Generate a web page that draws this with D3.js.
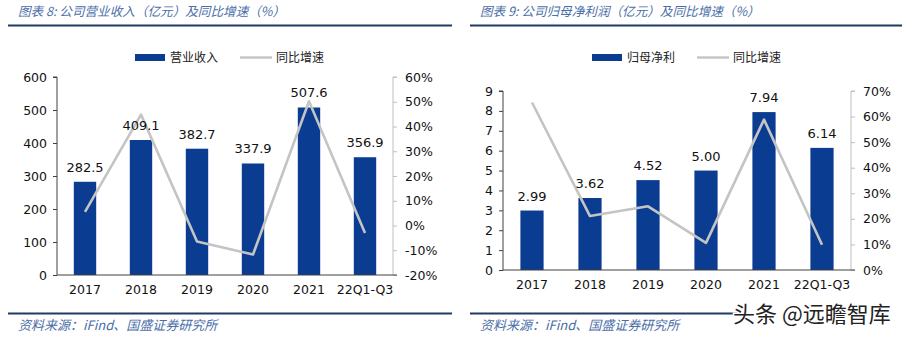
<!DOCTYPE html>
<html><head><meta charset="utf-8">
<script src="https://cdn.jsdelivr.net/npm/d3@7/dist/d3.min.js"></script>
<style>
html,body{margin:0;padding:0;background:#fff;}
svg{display:block;}
</style></head>
<body><svg id="c" width="910" height="337"></svg>
<script>
const categories = ["2017","2018","2019","2020","2021","22Q1-Q3"];
const revenue = [282.5, 409.1, 382.7, 337.9, 507.6, 356.9];
const revenueGrowth = [5.5, 44.8, -6.5, -11.7, 50.2, -3.0];
const netProfit = [2.99, 3.62, 4.52, 5.00, 7.94, 6.14];
const profitGrowth = [65.5, 21.1, 24.9, 10.6, 58.8, 9.9];
const revenueLabels = ["282.5","409.1","382.7","337.9","507.6","356.9"];
const profitLabels = ["2.99","3.62","4.52","5.00","7.94","6.14"];
const leftTicksA = [0,100,200,300,400,500,600];
const rightTicksA = [-20,-10,0,10,20,30,40,50,60];
const leftTicksB = [0,1,2,3,4,5,6,7,8,9];
const rightTicksB = [0,10,20,30,40,50,60,70];

const svg = d3.select("#c");
const BAR = "#0a3d92", LINE = "#c4c4c4", NAVY = "#1f3b66", TITLE = "#4a6ea8";
const FONT = "'DejaVu Sans', Verdana, sans-serif";
const CJK = "'Noto Sans CJK SC', sans-serif";

function panel(o){
  const g = svg.append("g");
  // title
  g.append("text").attr("x", o.x0 + 10).attr("y", 16)
    .attr("font-family", CJK).attr("font-size", 12.6).attr("font-style","italic")
    .attr("fill", TITLE).text(o.title);
  g.append("line").attr("x1", o.x0).attr("x2", o.x1).attr("y1", 25.5).attr("y2", 25.5)
    .attr("stroke", NAVY).attr("stroke-width", 2.2);
  // footer
  g.append("line").attr("x1", o.x0).attr("x2", o.footEnd).attr("y1", 313.5).attr("y2", 313.5)
    .attr("stroke", NAVY).attr("stroke-width", 2.2);
  g.append("text").attr("x", o.x0 + 10).attr("y", 330)
    .attr("font-family", CJK).attr("font-size", 13).attr("font-style","italic")
    .attr("fill", TITLE).text("资料来源：iFind、国盛证券研究所");

  const x = d3.scaleBand().domain(categories).range([o.pl, o.pr]).paddingInner(0.6).paddingOuter(0.3);
  const xc = d3.scaleBand().domain(categories).range([o.pl, o.pr]);
  const yL = d3.scaleLinear().domain(o.domL).range([o.pb, o.pt]);
  const yR = d3.scaleLinear().domain(o.domR).range([o.pb, o.pt]);

  // left axis
  const aL = g.append("g").attr("transform", `translate(${o.pl},0)`)
    .call(d3.axisLeft(yL).tickValues(o.ticksL).tickSize(4).tickPadding(6).tickFormat(d3.format("d")));
  aL.select(".domain").attr("stroke", "#404040").attr("d", `M-4,${o.pt}H0V${o.pb}`);
  aL.selectAll(".tick line").attr("stroke", "#404040");
  aL.selectAll("text").attr("font-family", FONT).attr("font-size", 12.5).attr("fill", "#111");

  // right axis
  const aR = g.append("g").attr("transform", `translate(${o.pr},0)`)
    .call(d3.axisRight(yR).tickValues(o.ticksR).tickSize(4).tickPadding(8).tickFormat(d => d + "%"));
  aR.select(".domain").attr("stroke", "#bfbfbf").attr("d", `M4,${o.pt}H0V${o.pb}`);
  aR.selectAll(".tick line").attr("stroke", "#bfbfbf");
  aR.selectAll("text").attr("font-family", FONT).attr("font-size", 12.5).attr("fill", "#111");

  // bars
  g.append("g").selectAll("rect").data(o.bars).join("rect")
    .attr("x", (d,i) => x(categories[i])).attr("width", x.bandwidth())
    .attr("y", d => yL(d)).attr("height", d => yL(0) - yL(d)).attr("fill", BAR);

  // x axis
  const aX = g.append("g").attr("transform", `translate(0,${o.pb})`)
    .call(d3.axisBottom(xc).tickSize(0).tickPadding(10));
  aX.select(".domain").attr("stroke", "#404040").attr("d", `M${o.pl},0H${o.pr + 4}`);
  aX.selectAll("text").attr("font-family", FONT).attr("font-size", 12.5).attr("fill", "#111");

  // line
  const line = d3.line().x((d,i) => xc(categories[i]) + xc.bandwidth()/2).y(d => yR(d));
  g.append("path").datum(o.growth).attr("d", line).attr("fill","none")
    .attr("stroke", LINE).attr("stroke-width", 2.6).attr("stroke-linejoin","round");

  // labels
  g.append("g").selectAll("text").data(o.labels).join("text")
    .attr("x", (d,i) => xc(categories[i]) + xc.bandwidth()/2)
    .attr("y", (d,i) => yL(o.bars[i]) - 10)
    .attr("text-anchor","middle").attr("font-family", FONT).attr("font-size", 13).attr("fill","#111")
    .text(d => d);

  // legend
  const lg = g.append("g");
  lg.append("rect").attr("x", o.lx).attr("y", 54).attr("width", 30).attr("height", 7).attr("fill", BAR);
  lg.append("text").attr("x", o.lx + 35).attr("y", 62).attr("font-family", CJK).attr("font-size", 12)
    .attr("fill","#222").text(o.legBar);
  lg.append("line").attr("x1", o.lx + 105).attr("x2", o.lx + 137).attr("y1", 57.5).attr("y2", 57.5)
    .attr("stroke", LINE).attr("stroke-width", 2.4);
  lg.append("text").attr("x", o.lx + 141).attr("y", 62).attr("font-family", CJK).attr("font-size", 12)
    .attr("fill","#222").text("同比增速");
}

panel({x0: 8, x1: 452, footEnd: 452, title: "图表 8:  公司营业收入（亿元）及同比增速（%）",
  pl: 57, pr: 393, pt: 77, pb: 275, domL: [0,600], domR: [-20,60],
  ticksL: leftTicksA, ticksR: rightTicksA, bars: revenue, growth: revenueGrowth, labels: revenueLabels,
  lx: 135, legBar: "营业收入"});
panel({x0: 470, x1: 902, footEnd: 740, title: "图表 9:  公司归母净利润（亿元）及同比增速（%）",
  pl: 503, pr: 851, pt: 91, pb: 270, domL: [0,9], domR: [0,70],
  ticksL: leftTicksB, ticksR: rightTicksB, bars: netProfit, growth: profitGrowth, labels: profitLabels,
  lx: 592, legBar: "归母净利"});

// watermark
svg.append("text").attr("x", 733).attr("y", 322).attr("font-family", CJK).attr("font-size", 22)
  .attr("fill", "#222").attr("stroke", "#fff").attr("stroke-width", 3).attr("paint-order", "stroke")
  .text("头条 @远瞻智库");
</script></body></html>
